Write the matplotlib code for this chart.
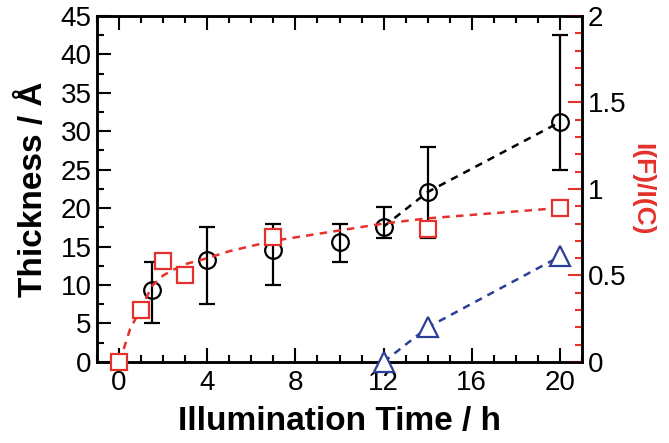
import numpy as np
import matplotlib
matplotlib.use("Agg")
import matplotlib.pyplot as plt
from matplotlib.ticker import MultipleLocator

plt.rcParams['font.family'] = ['Liberation Sans', 'DejaVu Sans']

# Film thickness (left axis) with asymmetric error bars
thick_t = [1.5, 4, 7, 10, 12, 14, 20]
thick = [9.3, 13.3, 14.5, 15.6, 17.6, 22.1, 31.2]
thick_lo = [4.3, 5.8, 4.5, 2.6, 1.5, 6.0, 6.2]
thick_hi = [3.7, 4.2, 3.4, 2.3, 2.5, 5.9, 11.3]

# dashed guide through the last thickness points
guide_t = [12, 14, 20]
guide_v = [17.6, 22.1, 31.2]

# I(F)/I(C) ratio (right axis)
ratio_t = [0, 1, 2, 3, 7, 14, 20]
ratio = [0.0, 0.30, 0.585, 0.50, 0.72, 0.77, 0.89]

# fitted curve through the ratio data
fit_t = [0, 0.25, 0.5, 1, 1.5, 2, 2.5, 3, 4, 5, 6, 7, 8, 10, 12, 14, 16, 18, 20]
fit_r = [0.0, 0.09, 0.19, 0.31, 0.44, 0.50, 0.535, 0.565, 0.60, 0.64, 0.67,
         0.70, 0.72, 0.76, 0.80, 0.83, 0.85, 0.87, 0.89]

# blue triangle series (right axis)
tri_t = [12, 14, 20]
tri_r = [0.0, 0.2, 0.61]

red = '#e4312b'
blue = '#2b3f98'

fig, ax = plt.subplots(figsize=(6.69, 4.43), dpi=100)
fig.subplots_adjust(left=0.145, right=0.870, top=0.964, bottom=0.183)

ax.errorbar(thick_t, thick, yerr=[thick_lo, thick_hi], fmt='o', ms=12,
            mfc='none', mec='black', mew=1.6, ecolor='black', elinewidth=1.6,
            capsize=6, capthick=1.6, zorder=3)
ax.plot(guide_t, guide_v, '--', color='black', lw=1.8, dashes=(3, 2.5), zorder=2)

ax.set_xlim(-1, 21)
ax.set_ylim(0, 45)
ax.xaxis.set_major_locator(MultipleLocator(4))
ax.xaxis.set_minor_locator(MultipleLocator(1))
ax.yaxis.set_major_locator(MultipleLocator(5))
ax.yaxis.set_minor_locator(MultipleLocator(2.5))
ax.tick_params(axis='x', which='both', direction='in', top=True, bottom=True,
               width=1.5, labelsize=20, pad=6)
ax.tick_params(axis='y', which='both', direction='in', left=True, right=False,
               width=1.5, labelsize=20, pad=4)
ax.tick_params(which='major', length=10)
ax.tick_params(which='minor', length=5)
for s in ax.spines.values():
    s.set_linewidth(1.8)

ax.set_xlabel('Illumination Time / h', fontsize=24, fontweight='bold', labelpad=7)
ax.set_ylabel('Thickness / Å', fontsize=24, fontweight='bold', labelpad=8)

ax2 = ax.twinx()
ax2.plot(fit_t, fit_r, '--', color=red, lw=1.8, dashes=(3, 2.5), zorder=2)
ax2.plot(ratio_t, ratio, 's', ms=12, mfc='white', mec=red, mew=1.6,
         linestyle='none', zorder=4, clip_on=False)
ax2.plot(tri_t, tri_r, '^', ms=14, mfc='white', mec=blue, mew=1.6,
         color=blue, linestyle='--', lw=1.8, dashes=(3, 2.5), zorder=3,
         clip_on=False)
ax2.set_ylim(0, 2)
ax2.yaxis.set_major_locator(MultipleLocator(0.5))
ax2.yaxis.set_minor_locator(MultipleLocator(0.1))
ax2.set_yticks([0, 0.5, 1, 1.5, 2])
ax2.set_yticklabels(['0', '0.5', '1', '1.5', '2'])
ax2.tick_params(axis='y', which='both', direction='in', colors=red,
                labelcolor='black', width=1.5, labelsize=20, pad=4)
ax2.tick_params(which='major', length=10)
ax2.tick_params(which='minor', length=5)
for s in ax2.spines.values():
    s.set_linewidth(1.8)
ax2.set_ylabel('I(F)/I(C)', fontsize=19, fontweight='bold', color=red,
               rotation=270, labelpad=20)

fig.savefig('out.png', dpi=100)
